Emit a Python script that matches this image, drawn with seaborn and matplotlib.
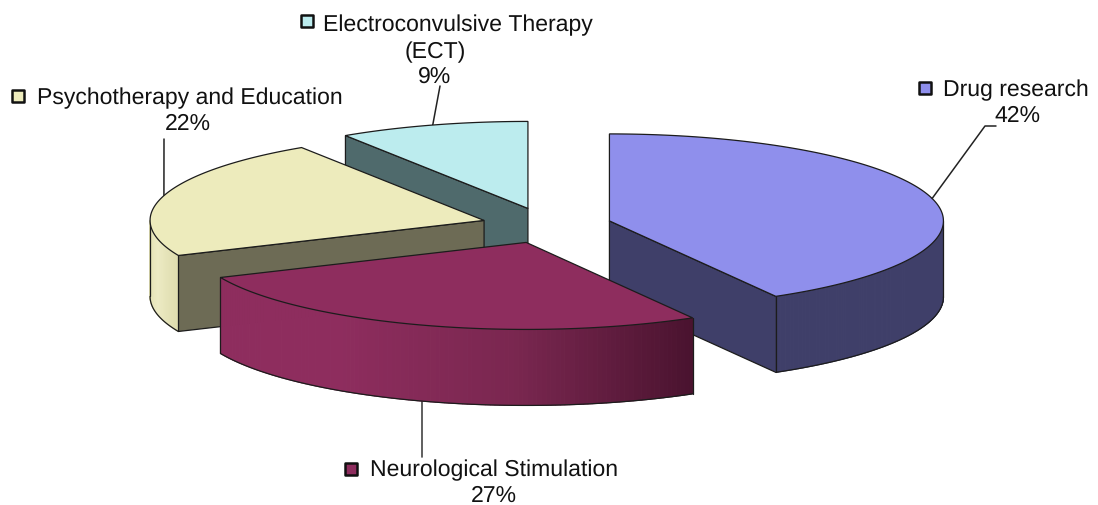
import numpy as np
import matplotlib
matplotlib.use("Agg")
import matplotlib.pyplot as plt
import seaborn as sns

labels = ["Drug research", "Neurological Stimulation", "Psychotherapy and Education", "Electroconvulsive Therapy\n(ECT)"]
shares = [41.7, 26.7, 22.4, 9.2]

top_colors = ["#8F8FEC", "#8E2D5E", "#EDEBBC", "#BCECEE"]
face_colors = ["#3F3F69", "#6B2247", "#6D6B55", "#4F6A6C"]
rim_colors = [["#3F3F69", "#3F3F69"],
              ["#8E2D5E", "#8E2D5E", "#7A2750", "#4A132F"],
              ["#E2E0B2", "#EDEBC4", "#DEDCAE"],
              ["#4F6A6C", "#4F6A6C"]]

# pie geometry, in pixels
cx, cy = 546.5, 226.5
rx, ry = 334, 87
depth = 76
explode = 0.195

sns.set_theme(style="white")
plt.rcParams['font.family'] = ['Liberation Sans', 'DejaVu Sans']
plt.rcParams['text.hinting'] = 'none'
plt.rcParams['text.hinting_factor'] = 1

fig = plt.figure(figsize=(10.98, 5.06), dpi=100)
ax = fig.add_axes([0, 0, 1, 1])
ax.set_xlim(0, 1098)
ax.set_ylim(506, 0)
ax.axis("off")

edge = "#1c1c1c"

# angles go clockwise from 12 o'clock
stops = np.cumsum([0] + shares) * 3.6


def rim(t, ox, oy):
    t = np.radians(t)
    return ox + rx * np.sin(t), oy - ry * np.cos(t)


def draw_wedge(i, z):
    t0, t1 = stops[i], stops[i + 1]
    mid = np.radians((t0 + t1) / 2)
    ox = cx + explode * rx * np.sin(mid)
    oy = cy - explode * ry * 1.05 * np.cos(mid)

    # flat side faces
    for t, visible in [(t0, np.sin(np.radians(t0)) < -1e-6), (t1, np.sin(np.radians(t1)) > 1e-6)]:
        if visible:
            x, y = rim(t, ox, oy)
            ax.fill([ox, x, x, ox], [oy, y, y + depth, oy + depth], fc=face_colors[i],
                    ec=edge, lw=0.9, zorder=z + 1)

    # outer curved side, only the part facing us
    a, b = max(t0, 90), min(t1, 270)
    if a < b:
        tt = np.linspace(a, b, 121)
        pal = sns.blend_palette(rim_colors[i], len(tt) - 1)
        # shade by left to right position
        xs, ys = rim(tt, ox, oy)
        order = np.argsort(np.argsort(xs[:-1]))
        for k in range(len(tt) - 1):
            ax.fill([xs[k], xs[k + 1], xs[k + 1], xs[k]],
                    [ys[k], ys[k + 1], ys[k + 1] + depth, ys[k] + depth],
                    fc=pal[order[k]], ec=pal[order[k]], lw=0.8, zorder=z + 2)
        ax.plot(xs, ys + depth, color=edge, lw=0.9, zorder=z + 3)
        ax.plot([xs[0], xs[0]], [ys[0], ys[0] + depth], color=edge, lw=0.9, zorder=z + 3)
        ax.plot([xs[-1], xs[-1]], [ys[-1], ys[-1] + depth], color=edge, lw=0.9, zorder=z + 3)

    # top
    tt = np.linspace(t0, t1, 200)
    xs, ys = rim(tt, ox, oy)
    ax.fill(np.r_[ox, xs], np.r_[oy, ys], fc=top_colors[i], ec=edge, lw=0.9, zorder=z + 4)
    return ox, oy, (t0 + t1) / 2


# back pieces first, the front slice goes last
anchors = {}
for z, i in enumerate([3, 2, 0, 1]):
    ox, oy, mid = draw_wedge(i, z * 10)
    x, y = rim(mid, ox, oy)
    if 90 < mid < 270:
        y += depth
    anchors[i] = (x, y)

# leader lines
ax.plot([anchors[0][0], 985, 996], [anchors[0][1], 127, 127], color="#222222", lw=1.1, zorder=60)
ax.plot([anchors[1][0], anchors[1][0]], [anchors[1][1], 458], color="#444444", lw=1.2, zorder=-1)
ax.plot([anchors[2][0], 164], [anchors[2][1], 140], color="#222222", lw=1.1, zorder=-1)
ax.plot([anchors[3][0], 440], [anchors[3][1], 87], color="#222222", lw=1.1, zorder=-1)

# labels, with the little colour box in front of the name
fs = 16.5
ink = "#111111"
ax.text(943, 90, labels[0], fontsize=fs, color=ink, ha="left", va="center")
ax.text(1017, 116, f"{shares[0]:.0f}%", fontsize=fs, color=ink, ha="center", va="center")
ax.text(370, 470, labels[1], fontsize=fs, color=ink, ha="left", va="center")
ax.text(494, 496, f"{shares[1]:.0f}%", fontsize=fs, color=ink, ha="center", va="center")
ax.text(37, 98, labels[2], fontsize=fs, color=ink, ha="left", va="center")
ax.text(188, 124, f"{shares[2]:.0f}%", fontsize=fs, color=ink, ha="center", va="center")
ect_name, ect_sub = labels[3].split("\n")
ax.text(323, 25, ect_name, fontsize=fs, color=ink, ha="left", va="center")
ax.text(435, 52, ect_sub, fontsize=fs, color=ink, ha="center", va="center")
ax.text(435, 77, f"{shares[3]:.0f}%", fontsize=fs, color=ink, ha="center", va="center")

for (mx, my), c in zip([(925, 89), (351, 470), (18, 97), (307, 22)], top_colors):
    ax.scatter([mx], [my], marker="s", s=70, color=c, edgecolor="#111111", linewidth=1.8, zorder=70)

fig.savefig("out.png", dpi=100, facecolor="white")
